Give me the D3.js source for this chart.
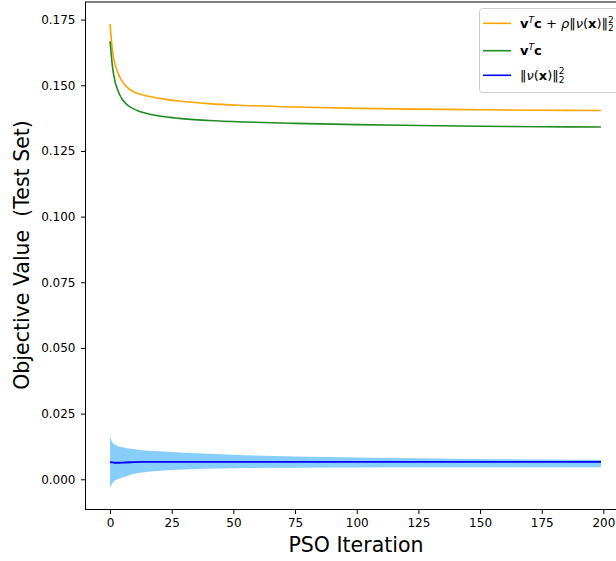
<!DOCTYPE html>
<html>
<head>
<meta charset="utf-8">
<script src="https://cdn.jsdelivr.net/npm/d3@7"></script>
<style>
  body { margin: 0; background: #fff; }
  svg { display: block; font-family: "DejaVu Sans", sans-serif; }
</style>
</head>
<body>
<svg id="chart" width="616" height="561"></svg>
<script>
// values
const iters = [0, 1, 2, 3, 4, 5, 7, 9, 12, 16, 20, 28, 40, 55, 75, 100, 125, 150, 175, 199];
const penalised = [0.1733, 0.1630, 0.1580, 0.1552, 0.1530, 0.1514, 0.1492, 0.1478, 0.1467, 0.1457,
                   0.1450, 0.1440, 0.1430, 0.1423, 0.1417, 0.1412, 0.1409, 0.1407, 0.1405, 0.1404];
const costOnly = [0.1668, 0.1570, 0.1515, 0.1485, 0.1462, 0.1446, 0.1425, 0.1413, 0.1400, 0.1390,
                  0.1383, 0.1374, 0.1366, 0.1360, 0.1355, 0.1350, 0.1347, 0.1344, 0.1342, 0.1341];

const bandIters = [0, 1, 2, 3, 4, 6, 9, 13, 18, 25, 35, 50, 75, 100, 125, 150, 175, 199];
const normMean  = [0.0065, 0.0064, 0.0063, 0.0063, 0.0063, 0.0064, 0.0065, 0.0066, 0.0066, 0.0066,
                   0.0066, 0.0066, 0.0066, 0.0066, 0.0066, 0.0066, 0.0066, 0.0066];
const normUpper = [0.0162, 0.0140, 0.0132, 0.0127, 0.0124, 0.0120, 0.0115, 0.0111, 0.0108, 0.0104,
                   0.0099, 0.0093, 0.0087, 0.0083, 0.0080, 0.0077, 0.0075, 0.0074];
const normLower = [-0.0032, -0.0015, -0.0005, 0.0000, 0.0004, 0.0010, 0.0019, 0.0026, 0.0031, 0.0035,
                   0.0039, 0.0042, 0.0044, 0.0045, 0.0046, 0.0046, 0.0046, 0.0046];

const xTicks = [0, 25, 50, 75, 100, 125, 150, 175, 200];
const yTicks = [0, 0.025, 0.05, 0.075, 0.1, 0.125, 0.15, 0.175];

const svg = d3.select("#chart");
const box = {left: 85.5, right: 625.5, top: 2, bottom: 509.5};

const x = d3.scaleLinear().domain([-9.95, 208.95]).range([box.left, box.right]);
const y = d3.scaleLinear().domain([-0.0115, 0.1817]).range([box.bottom, box.top]);

// band + lines
const band = bandIters.map((it, i) => ({it: it, lo: normLower[i], hi: normUpper[i], m: normMean[i]}));
svg.append("path")
    .datum(band)
    .attr("fill", "#87cefa")
    .attr("d", d3.area().x(d => x(d.it)).y0(d => y(d.lo)).y1(d => y(d.hi)).curve(d3.curveMonotoneX));

const line = d3.line().x(d => x(d[0])).y(d => y(d[1])).curve(d3.curveMonotoneX);
const series = [
    {vals: penalised, color: "orange"},
    {vals: costOnly, color: "#228b22"}
];
series.forEach(s => {
    svg.append("path")
        .datum(iters.map((it, i) => [it, s.vals[i]]))
        .attr("fill", "none")
        .attr("stroke", s.color)
        .attr("stroke-width", 1.6)
        .attr("d", line);
});
svg.append("path")
    .datum(band.map(d => [d.it, d.m]))
    .attr("fill", "none")
    .attr("stroke", "blue")
    .attr("stroke-width", 1.8)
    .attr("d", line);

// axes
const xAxis = svg.append("g")
    .attr("transform", "translate(0," + box.bottom + ")")
    .call(d3.axisBottom(x).tickValues(xTicks).tickSize(4.5).tickPadding(4).tickFormat(d3.format("d")));
const yAxis = svg.append("g")
    .attr("transform", "translate(" + box.left + ",0)")
    .call(d3.axisLeft(y).tickValues(yTicks).tickSize(4.5).tickPadding(5.5).tickFormat(d3.format(".3f")));
[xAxis, yAxis].forEach(g => {
    g.attr("font-family", "DejaVu Sans, sans-serif").attr("font-size", 12);
    g.select(".domain").remove();
    g.selectAll(".tick line").attr("stroke", "#000");
    g.selectAll(".tick text").attr("fill", "#000");
});

// spines
svg.append("rect")
    .attr("x", box.left).attr("y", box.top)
    .attr("width", box.right - box.left).attr("height", box.bottom - box.top)
    .attr("fill", "none").attr("stroke", "#000").attr("stroke-width", 1);

// axis titles
svg.append("text")
    .attr("x", 356).attr("y", 552)
    .attr("text-anchor", "middle")
    .attr("font-size", 20.5)
    .text("PSO Iteration");
svg.append("text")
    .attr("transform", "translate(29,255) rotate(-90)")
    .attr("text-anchor", "middle")
    .attr("font-size", 20.5)
    .style("white-space", "pre")
    .text("Objective Value  (Test Set)");

// legend
const leg = svg.append("g");
leg.append("rect")
    .attr("x", 479.5).attr("y", 8.5).attr("width", 160).attr("height", 84).attr("rx", 3)
    .attr("fill", "#fff").attr("fill-opacity", 0.8)
    .attr("stroke", "#ccc").attr("stroke-width", 1);

const fs = 13;
// draw a mathtext-like label piece by piece
function mathLabel(x0, base, pieces) {
    let cx = x0;
    pieces.forEach(p => {
        if (p.stack) {
            let w = 0;
            p.stack.forEach(s => {
                const t = leg.append("text")
                    .attr("x", cx).attr("y", base + s.dy)
                    .attr("font-size", fs * 0.7)
                    .text(s.t);
                w = Math.max(w, t.node().getComputedTextLength());
            });
            cx += w;
            return;
        }
        const t = leg.append("text")
            .attr("x", cx).attr("y", base + (p.dy || 0))
            .attr("font-size", fs * (p.s || 1))
            .attr("font-weight", p.b ? "bold" : null)
            .attr("font-style", p.i ? "italic" : null)
            .style("white-space", "pre")
            .text(p.t);
        cx += t.node().getComputedTextLength() + (p.gap || 0);
    });
}

const legendRows = [
    {y: 23.3, color: "orange", base: 28, pieces: [
        {t: "v", b: 1}, {t: "T", i: 1, s: 0.7, dy: -5.5}, {t: "c", b: 1}, {t: " + "},
        {t: "ρ", i: 1}, {t: "‖"}, {t: "ν", i: 1}, {t: "("}, {t: "x", b: 1}, {t: ")"}, {t: "‖"},
        {stack: [{t: "2", dy: -5.5}, {t: "2", dy: 3}]}]},
    {y: 50.7, color: "#228b22", base: 55, pieces: [
        {t: "v", b: 1}, {t: "T", i: 1, s: 0.7, dy: -5.5}, {t: "c", b: 1}]},
    {y: 75.3, color: "blue", base: 79.5, pieces: [
        {t: "‖"}, {t: "ν", i: 1}, {t: "("}, {t: "x", b: 1}, {t: ")"}, {t: "‖"},
        {stack: [{t: "2", dy: -5.5}, {t: "2", dy: 3}]}]}
];
legendRows.forEach(r => {
    leg.append("line")
        .attr("x1", 483).attr("x2", 511).attr("y1", r.y).attr("y2", r.y)
        .attr("stroke", r.color).attr("stroke-width", 1.6);
    mathLabel(520, r.base, r.pieces);
});
</script>
</body>
</html>
